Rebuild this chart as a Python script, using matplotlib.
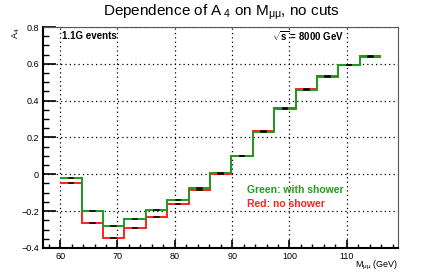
import numpy as np
import matplotlib
matplotlib.use("Agg")
import matplotlib.pyplot as plt
from matplotlib.ticker import MultipleLocator

plt.rcParams['font.family'] = ['Liberation Sans', 'DejaVu Sans']
plt.rcParams['mathtext.fontset'] = 'custom'
plt.rcParams['mathtext.rm'] = 'Liberation Sans'
plt.rcParams['mathtext.it'] = 'Liberation Sans'
plt.rcParams['mathtext.bf'] = 'Liberation Sans:bold'

bin_edges = np.linspace(60, 116, 16)
green_vals = [-0.02, -0.198, -0.283, -0.243, -0.195, -0.14, -0.077, 0.006,
              0.099, 0.231, 0.357, 0.458, 0.53, 0.591, 0.638]
red_vals = [-0.05, -0.265, -0.344, -0.292, -0.23, -0.164, -0.088, 0.004,
            0.102, 0.234, 0.361, 0.462, 0.534, 0.596, 0.643]

fig = plt.figure(figsize=(4.43, 2.77), dpi=100)
ax = fig.add_axes([0.097, 0.105, 0.801, 0.7975])

ax.stairs(red_vals, bin_edges, baseline=None, color='#ff2020', lw=1.4, zorder=3)
ax.stairs(green_vals, bin_edges, baseline=None, color='#1f9a1f', lw=1.4, zorder=4)
centers = 0.5 * (bin_edges[:-1] + bin_edges[1:])
w = (bin_edges[1] - bin_edges[0]) * 0.11
for c, g, r in zip(centers, green_vals, red_vals):
    ax.plot([c - w, c + w], [g, g], color='black', lw=1.1, zorder=5)
    ax.plot([c - w, c + w], [r, r], color='black', lw=1.1, zorder=5)

ax.set_xlim(57.0, 118.9)
ax.set_ylim(-0.4, 0.8)
ax.xaxis.set_minor_locator(MultipleLocator(2))
ax.yaxis.set_minor_locator(MultipleLocator(0.05))
ax.tick_params(which='both', direction='in', top=False, right=False, labelsize=6.5, pad=3)
ax.tick_params(axis='y', which='major', length=9, width=1.2)
ax.tick_params(axis='y', which='minor', length=4.5, width=1)
ax.tick_params(axis='x', which='major', length=6, width=1.2)
ax.tick_params(axis='x', which='minor', length=3, width=1)
ax.set_xticks([60, 70, 80, 90, 100, 110])
ax.set_xticklabels(['60', '70', '80', '90', '100', '110'])
ax.set_yticks([-0.4, -0.2, 0, 0.2, 0.4, 0.6, 0.8])
ax.set_yticklabels(['\u22120.4', '\u22120.2', '0', '0.2', '0.4', '0.6', '0.8'])
ax.grid(True, which='major', color='black', linestyle=(0, (1, 2.5)), lw=0.9)
for s in ['left', 'bottom']:
    ax.spines[s].set_linewidth(1.5)
for s in ['right', 'top']:
    ax.spines[s].set_linewidth(0.8)
    ax.spines[s].set_color('#555555')

fig.text(0.5, 0.957, r'Dependence of A$_{\;4}$ on M$_{\mu\mu}$, no cuts', ha='center', va='center', fontsize=11)
fig.text(0.035, 0.88, r'A$_4$', rotation=90, ha='center', va='center', fontsize=6.5)
fig.text(0.898, 0.04, r'M$_{\mu\mu}$ (GeV)', ha='right', va='center', fontsize=6.5)

ax.text(60.3, 0.75, '1.1G events', fontsize=7, fontweight='bold', va='center', ha='left')
ax.text(109.5, 0.75, r'$\sqrt{\mathbf{s}}$ = 8000 GeV', fontsize=7, fontweight='bold', va='center', ha='right')
ax.text(92.6, -0.085, 'Green: with shower', fontsize=7.5, fontweight='bold', color='#1f9a1f', va='center')
ax.text(92.6, -0.16, 'Red: no shower', fontsize=7.5, fontweight='bold', color='#ff2020', va='center')

fig.savefig('out.png', dpi=100)
